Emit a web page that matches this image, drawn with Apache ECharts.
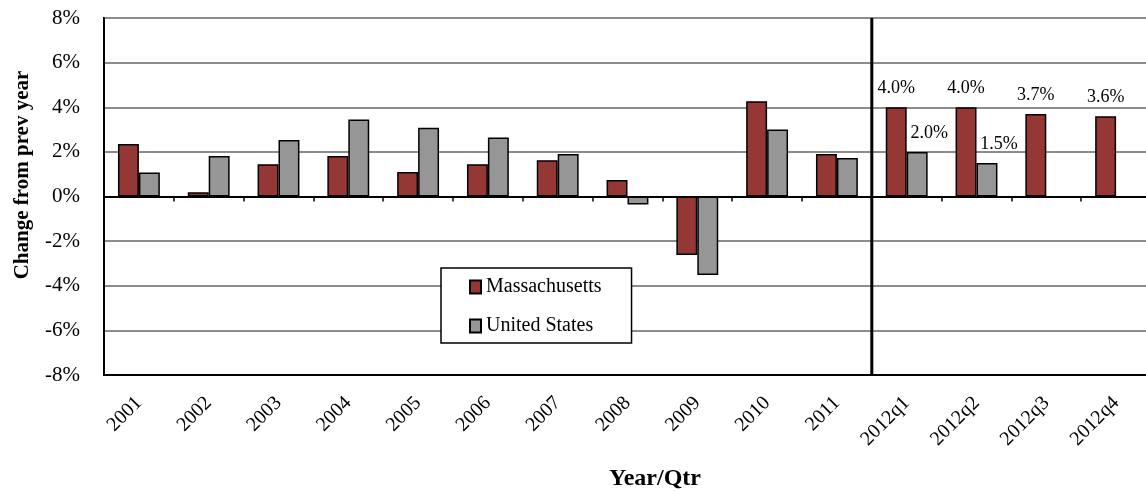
<!DOCTYPE html>
<html>
<head>
<meta charset="utf-8">
<script src="https://cdn.jsdelivr.net/npm/echarts@6/dist/echarts.min.js"></script>
<style>html,body{margin:0;padding:0;background:#fff}#c{width:1146px;height:492px}</style>
</head>
<body>
<div id="c"></div>
<script>
var categories = ['2001','2002','2003','2004','2005','2006','2007','2008','2009','2010','2011','2012q1','2012q2','2012q3','2012q4'];
var massachusetts = [2.35, 0.19, 1.45, 1.82, 1.10, 1.45, 1.63, 0.74, -2.62, 4.27, 1.91, 4.0, 4.0, 3.7, 3.6];
var unitedStates = [1.08, 1.82, 2.53, 3.45, 3.08, 2.64, 1.91, -0.36, -3.52, 3.0, 1.73, 2.0, 1.5, null, null];
var yTicks = [-8, -6, -4, -2, 0, 2, 4, 6, 8];
var labelledFrom = '2012q1';

var FONT = 'Liberation Serif';
var splitIndex = categories.indexOf(labelledFrom);

function withLabels(arr, offset) {
  return arr.map(function (v, i) {
    if (i >= splitIndex && v != null) {
      return { value: v, label: { show: true, position: 'top', distance: 10, offset: offset,
        formatter: function (p) { return p.value.toFixed(1) + '%'; },
        fontFamily: FONT, fontSize: 18, color: '#000' } };
    }
    return v;
  });
}

var chart = echarts.init(document.getElementById('c'));
chart.setOption({
  animation: false,
  backgroundColor: '#fff',
  grid: { left: 104, top: 18, right: -5, bottom: 117, outerBoundsMode: 'none', containLabel: false,
    show: true, borderColor: '#000', borderWidth: 2, backgroundColor: 'transparent' },
  legend: {
    orient: 'vertical', left: 441, top: 268,
    data: ['Massachusetts', 'United States'],
    icon: 'rect',
    backgroundColor: '#fff', borderColor: '#000', borderWidth: 1.5,
    padding: [9, 30, 7, 28], itemGap: 19, itemWidth: 11, itemHeight: 13, itemTextGap: 6,
    textStyle: { fontFamily: FONT, fontSize: 20, color: '#000' }
  },
  xAxis: [
    { type: 'category', data: categories, position: 'bottom',
      axisLine: { onZero: false, lineStyle: { color: '#000', width: 2 } },
      axisTick: { show: false },
      axisLabel: { interval: 0, rotate: 45, margin: 25, fontFamily: FONT, fontSize: 20, color: '#000' },
      name: 'Year/Qtr', nameLocation: 'middle', nameGap: 92,
      nameTextStyle: { fontFamily: FONT, fontSize: 24, fontWeight: 'bold', color: '#000', padding: [0, 0, 0, 55] } },
    { type: 'category', data: categories, position: 'bottom',
      axisLine: { onZero: true, lineStyle: { color: '#000', width: 2 } },
      axisTick: { show: true, interval: 0, length: 5, lineStyle: { color: '#000', width: 1.5 } },
      axisLabel: { show: false } },
    { type: 'value', min: 0, max: categories.length, show: false, axisLine: { onZero: false } }
  ],
  yAxis: {
    type: 'value', min: yTicks[0], max: yTicks[yTicks.length - 1], interval: 2,
    axisLine: { show: true, onZero: false, lineStyle: { color: '#000', width: 2 } },
    axisTick: { show: false },
    axisLabel: { margin: 24, fontFamily: FONT, fontSize: 21, color: '#000', formatter: '{value}%', padding: [4, 0, 0, 0] },
    splitLine: { show: true, lineStyle: { color: '#8c8c8c', width: 2 } },
    name: 'Change from prev year', nameLocation: 'middle', nameRotate: 90, nameGap: 71,
    nameTextStyle: { fontFamily: FONT, fontSize: 21, fontWeight: 'bold', color: '#000', padding: [0, 0, 0, 43] }
  },
  series: [
    { name: 'Massachusetts', type: 'bar', xAxisIndex: 0, data: withLabels(massachusetts, [0, 0]),
      barGap: '0%', barCategoryGap: '40%',
      itemStyle: { color: '#953735', borderColor: '#000', borderWidth: 1.5 } },
    { name: 'United States', type: 'bar', xAxisIndex: 0, data: withLabels(unitedStates, [12, 0]),
      barGap: '0%', barCategoryGap: '40%',
      itemStyle: { color: '#969696', borderColor: '#000', borderWidth: 1.5 } },
    { name: 'divider', type: 'line', xAxisIndex: 2, yAxisIndex: 0, silent: true, symbol: 'none', z: 5,
      data: [[splitIndex, yTicks[0]], [splitIndex, yTicks[yTicks.length - 1]]],
      lineStyle: { color: '#000', width: 3 } }
  ]
});
</script>
</body>
</html>
